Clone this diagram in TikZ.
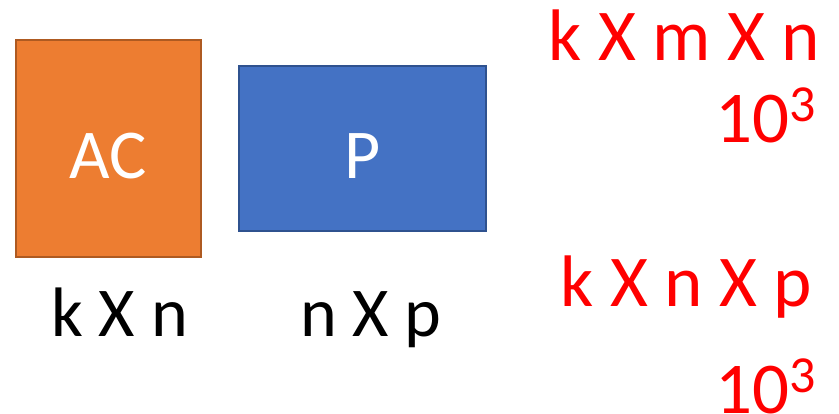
\documentclass[tikz,border=0pt]{standalone}
\usepackage{fontspec}
\setmainfont{Carlito}
\definecolor{orfill}{HTML}{ED7D31}
\definecolor{ordraw}{HTML}{AE5A21}
\definecolor{blfill}{HTML}{4472C4}
\definecolor{bldraw}{HTML}{2F528F}
\definecolor{redtxt}{HTML}{FF0000}
\newcommand{\supthree}{\raisebox{21pt}{\fontsize{52}{52}\selectfont 3}}
\begin{document}
\begin{tikzpicture}[x=1pt,y=1pt,
  big/.style={font=\fontsize{70}{70}\selectfont, inner sep=0pt, outer sep=0pt},
  redlbl/.style={font=\fontsize{73}{73}\selectfont, inner sep=0pt, outer sep=0pt, text=redtxt},
  blklbl/.style={big, text=black},
  boxlbl/.style={big, text=white}]
\useasboundingbox (0,0) rectangle (839,414);
% boxes
\draw[fill=orfill, draw=ordraw, line width=1.5pt] (16,157) rectangle (201,374);
\draw[fill=blfill, draw=bldraw, line width=1.5pt] (239,183) rectangle (486,348);
\node[boxlbl, anchor=base] (ac) at (108.5,235) {AC};
\node[boxlbl, anchor=base] (p) at (362.5,235) {P};
% black labels
\node[blklbl, anchor=base] (kn) at (119.5,77) {k X n};
\node[blklbl, anchor=base] (np) at (371,77) {n X p};
% red labels
\node[redlbl, anchor=base east] (kmn) at (820,353) {k X m X n};
\node[redlbl, anchor=base east] (e1) at (816,271) {10\supthree};
\node[redlbl, anchor=base east] (knp) at (812,107) {k X n X p};
\node[redlbl, anchor=base east] (e2) at (816,0) {10\supthree};
\end{tikzpicture}
\end{document}
